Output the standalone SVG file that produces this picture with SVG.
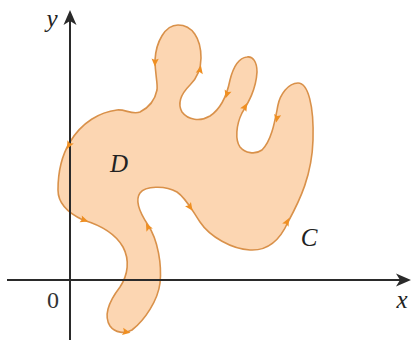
<svg xmlns="http://www.w3.org/2000/svg" xmlns:xlink="http://www.w3.org/1999/xlink" width="411" height="340" viewBox="0 0 411 340">
<style>
.region{fill:#fcd6b2;stroke:#d9914a;stroke-width:1.6}
.axis{stroke:#2a2a2a;stroke-width:2;fill:none}
.ahd{fill:#2a2a2a}
.tick{fill:#ef8f22}
.lbl{font-family:"Liberation Serif",serif;font-style:italic;font-size:25px;fill:#222}
.num{font-family:"Liberation Serif",serif;font-size:24px;fill:#333}
</style>
<defs>
<path id="ah" d="M4.5,0 L-3.5,-3.6 L-2,0 L-3.5,3.6 Z"/>
</defs>
<g id="region-D">
<path class="region" d="M178,25 C165,25 156,42 155,60 C155,75 158,83 157,90 C155,100 150,107 140,112 C132,115 125,109 117,110 C100,112 82,122 70,142 C62,155 58,170 58,190 C58,203 68,213 83,220 C100,225 115,233 123,247 C130,260 128,275 120,287 C110,300 103,315 110,326 C115,333 125,334 132,330 C145,320 158,300 160,283 C162,265 158,240 148,225 C140,213 135,200 140,193 C145,186 165,185 177,192 C186,198 192,210 200,222 C210,237 232,249 250,250 C268,251 280,240 288,222 C300,200 312,175 313,140 C314,105 308,83 298,83 C288,83 280,95 278,105 C275,120 272,140 262,150 C255,155 245,153 240,147 C235,140 236,125 242,113 C248,103 256,90 257,72 C257,62 253,56 247,57 C238,58 233,68 230,80 C227,95 222,108 210,116 C200,122 188,120 182,112 C177,103 182,93 190,85 C197,78 201,70 201,58 C201,38 192,25 178,25 Z"/>
</g>
<g id="axes">
<line class="axis" x1="7" y1="280" x2="402" y2="280"/>
<path class="ahd" d="M411,280 L396,273.5 L400,280 L396,286.5 Z"/>
<line class="axis" x1="70" y1="340" x2="70" y2="20"/>
<path class="ahd" d="M70,10 L63.5,25 L70,21 L76.5,25 Z"/>
</g>
<g id="connectors">
<use xlink:href="#ah" class="tick" transform="translate(155,62) rotate(92)"/>
<use xlink:href="#ah" class="tick" transform="translate(200,70) rotate(-78)"/>
<use xlink:href="#ah" class="tick" transform="translate(227,94) rotate(108)"/>
<use xlink:href="#ah" class="tick" transform="translate(245,107) rotate(-60)"/>
<use xlink:href="#ah" class="tick" transform="translate(277,118) rotate(100)"/>
<use xlink:href="#ah" class="tick" transform="translate(69,145) rotate(118)"/>
<use xlink:href="#ah" class="tick" transform="translate(84,220) rotate(18)"/>
<use xlink:href="#ah" class="tick" transform="translate(126,332) rotate(10)"/>
<use xlink:href="#ah" class="tick" transform="translate(148,227) rotate(-118)"/>
<use xlink:href="#ah" class="tick" transform="translate(190,207) rotate(55)"/>
<use xlink:href="#ah" class="tick" transform="translate(287,222) rotate(-62)"/>
</g>
<g id="labels">
<text class="lbl" x="52" y="27" text-anchor="middle">y</text>
<text class="lbl" x="402" y="308" text-anchor="middle">x</text>
<text class="num" x="53" y="308" text-anchor="middle">0</text>
<text class="lbl" x="119" y="172" text-anchor="middle">D</text>
<text class="lbl" x="309" y="246" text-anchor="middle">C</text>
</g>
</svg>
